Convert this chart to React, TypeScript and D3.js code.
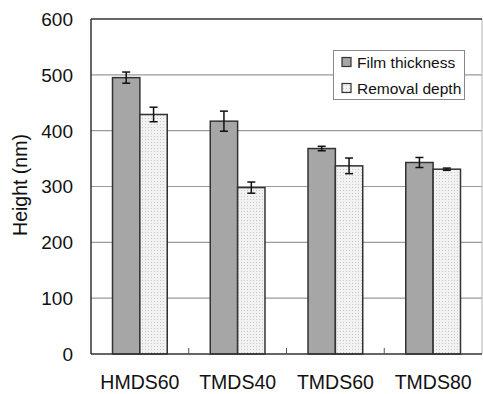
import React from "react";
import * as d3 from "d3";

const categories = ["HMDS60", "TMDS40", "TMDS60", "TMDS80"];
const seriesNames = ["Film thickness", "Removal depth"];
const filmThickness = [495, 417, 368, 343];
const filmErr = [10, 18, 4, 9];
const removalDepth = [429, 298, 337, 331];
const removalErr = [13, 10, 14, 2];
const yTicks = [0, 100, 200, 300, 400, 500, 600];

const W = 483;
const H = 394;
const M = { left: 91, right: 1, top: 19, bottom: 40 };

export default function App() {
  const x0 = d3.scaleBand<string>().domain(categories).range([M.left, W - M.right]).padding(0);
  const bw = x0.bandwidth();
  const x1 = d3.scaleBand<string>().domain(seriesNames).range([bw * 0.22, bw * 0.78]).padding(0);
  const y = d3.scaleLinear().domain([0, 600]).range([H - M.bottom, M.top]);
  const values = [filmThickness, removalDepth];
  const errs = [filmErr, removalErr];
  const font = "'Liberation Sans', Arial, sans-serif";
  const left = M.left;
  const right = W - M.right;
  const top = y(600);
  const bottom = y(0);

  return (
    <svg width={W} height={H} style={{ position: "absolute", left: 0, top: 0, background: "#fff" }} fontFamily={font}>
      <defs>
        <pattern id="dots" width="3" height="3" patternUnits="userSpaceOnUse">
          <rect width="3" height="3" fill="#f2f2f2" />
          <rect x="1" y="1" width="1" height="1" fill="#c8c8c8" />
        </pattern>
      </defs>
      <rect x={0} y={0} width={W} height={H} fill="#fff" />
      {yTicks.filter((t) => t > 0 && t < 600).map((t) => (
        <line key={t} x1={left} x2={right} y1={y(t)} y2={y(t)} stroke="#9a9a9a" strokeWidth={1.2} />
      ))}
      <line x1={right} x2={right} y1={top} y2={bottom} stroke="#b0b0b0" strokeWidth={1} />
      {categories.map((c, i) => (
        <g key={c}>
          {seriesNames.map((s, j) => {
            const bx = (x0(c) as number) + (x1(s) as number);
            const v = values[j][i];
            return (
              <rect key={s} x={bx} y={y(v)} width={x1.bandwidth()} height={bottom - y(v)}
                fill={j === 0 ? "#a6a6a6" : "url(#dots)"} stroke="#333" strokeWidth={1.5} />
            );
          })}
        </g>
      ))}
      {categories.map((c, i) => (
        <g key={c + "e"}>
          {seriesNames.map((s, j) => {
            const cx = (x0(c) as number) + (x1(s) as number) + x1.bandwidth() / 2;
            const v = values[j][i];
            const e = errs[j][i];
            return (
              <g key={s} stroke="#111" strokeWidth={1.5}>
                <line x1={cx} x2={cx} y1={y(v + e)} y2={y(v - e)} />
                <line x1={cx - 4} x2={cx + 4} y1={y(v + e)} y2={y(v + e)} />
                <line x1={cx - 4} x2={cx + 4} y1={y(v - e)} y2={y(v - e)} />
              </g>
            );
          })}
        </g>
      ))}
      <line x1={left} x2={right} y1={top} y2={top} stroke="#333" strokeWidth={1.5} />
      <line x1={left} x2={left} y1={top} y2={bottom} stroke="#333" strokeWidth={1.5} />
      <line x1={left} x2={right} y1={bottom} y2={bottom} stroke="#333" strokeWidth={1.5} />
      {categories.slice(1).map((c) => (
        <line key={c + "t"} x1={x0(c) as number} x2={x0(c) as number} y1={bottom} y2={bottom - 6} stroke="#555" strokeWidth={1} />
      ))}
      {yTicks.map((t) => (
        <text key={t} x={73} y={y(t)} dy="0.36em" textAnchor="end" fontSize={19} fill="#111">{t}</text>
      ))}
      {categories.map((c) => (
        <text key={c + "l"} x={(x0(c) as number) + bw / 2} y={389} textAnchor="middle" fontSize={19.5} fill="#111">{c}</text>
      ))}
      <text transform={`translate(27,185) rotate(-90)`} textAnchor="middle" fontSize={19.5} fill="#111">Height (nm)</text>
      <rect x={333.5} y={50.5} width={131} height={49} fill="#fff" stroke="#888" strokeWidth={1} />
      {seriesNames.map((s, j) => (
        <g key={s + "lg"}>
          <rect x={342} y={57.5 + j * 26} width={9} height={9} fill={j === 0 ? "#a6a6a6" : "url(#dots)"} stroke="#333" strokeWidth={1.2} />
          <text x={357} y={62 + j * 26} dy="0.36em" fontSize={15.5} fill="#111">{s}</text>
        </g>
      ))}
    </svg>
  );
}
